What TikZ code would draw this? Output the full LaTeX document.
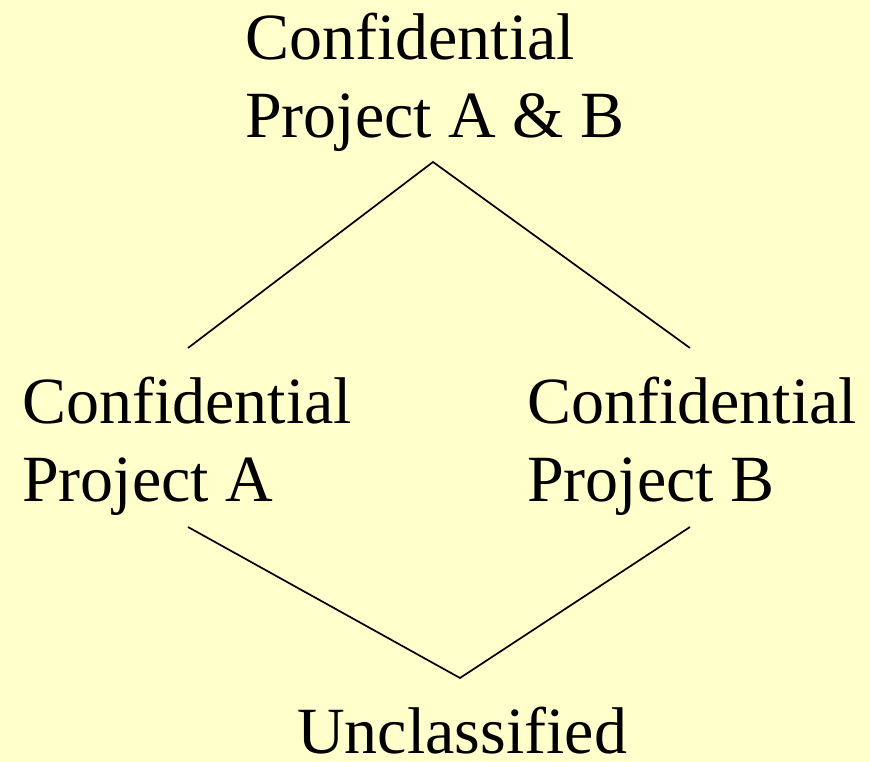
\documentclass[tikz,border=0pt]{standalone}
\usepackage{fontspec}
\setmainfont{Liberation Serif}
\definecolor{bgyellow}{HTML}{FFFFCC}
\begin{document}
\begin{tikzpicture}[x=1pt,y=1pt,
  lbl/.style={anchor=base west,inner sep=0pt,align=left,font=\fontsize{66}{78}\selectfont},
  link/.style={line width=1.7pt,black}]
\fill[bgyellow] (0,0) rectangle (870,762);
\useasboundingbox (0,0) rectangle (870,762);
\node[lbl] (ab) at (245,624) {Confidential\\Project A \& B};
\node[lbl] (a) at (22,260) {Confidential\\Project A};
\node[lbl] (b) at (527,260) {Confidential\\Project B};
\node[lbl] (u) at (297,8) {Unclassified};
\coordinate (abb) at (433,600);
\coordinate (at) at (188,414);
\coordinate (bt) at (690,414);
\coordinate (ab2) at (188,235);
\coordinate (bb2) at (690,235);
\coordinate (ut) at (460,84);
\draw[link] (at) -- (abb) -- (bt);
\draw[link] (ab2) -- (ut) -- (bb2);
\end{tikzpicture}
\end{document}
